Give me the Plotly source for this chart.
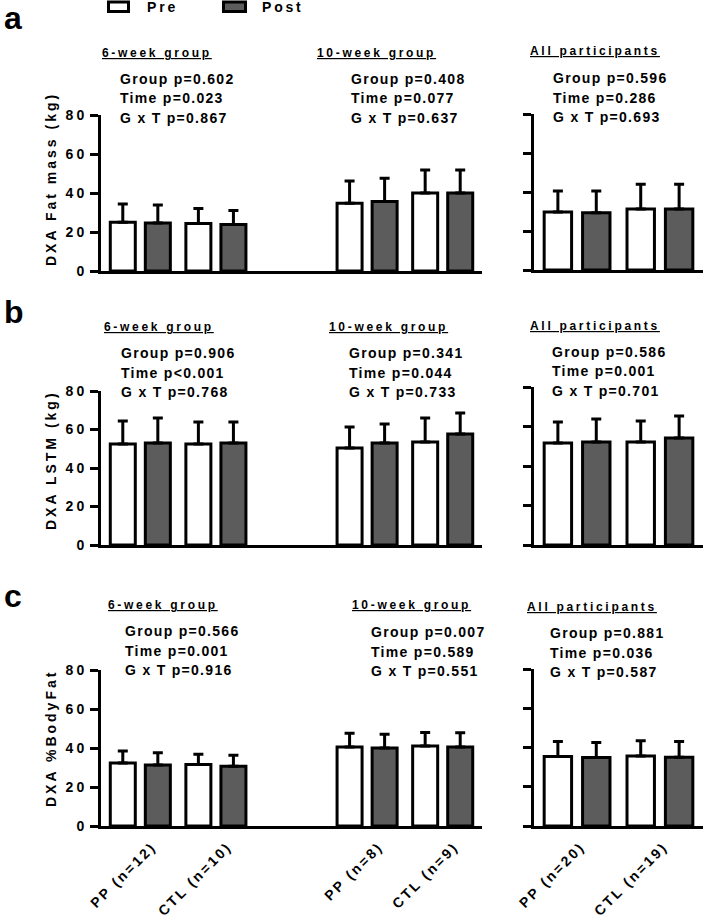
import plotly.graph_objects as go

W, H = 703, 924
FONT = "Liberation Sans, Arial, sans-serif"
GREY = "#5c5c5c"

cats_6wk = ["PP (n=12)", "CTL (n=10)"]
cats_10wk = ["PP (n=8)", "CTL (n=9)"]
cats_all = ["PP (n=20)", "CTL (n=19)"]
cohort_titles = ["6-week group", "10-week group", "All participants"]
series_names = ["Pre", "Post"]
series_colors = ["white", GREY]

# order in every list: 6wk PP, 6wk CTL, 10wk PP, 10wk CTL, all PP, all CTL
fat_pre = [25.0, 24.3, 34.8, 40.0, 29.7, 31.3]
fat_pre_sd = [9.4, 7.7, 11.3, 11.8, 10.8, 12.7]
fat_post = [24.6, 23.8, 35.7, 40.0, 29.3, 31.3]
fat_post_sd = [9.2, 7.2, 11.8, 11.8, 11.2, 12.7]

lstm_pre = [52.5, 52.5, 50.4, 53.5, 51.6, 52.2]
lstm_pre_sd = [11.9, 11.4, 10.9, 12.5, 10.7, 10.6]
lstm_post = [53.0, 53.0, 53.0, 57.7, 52.2, 54.2]
lstm_post_sd = [13.0, 10.9, 9.9, 10.9, 11.6, 11.1]

bf_pre = [32.3, 31.5, 40.5, 41.0, 35.4, 35.7]
bf_pre_sd = [6.2, 5.3, 7.0, 7.0, 7.6, 7.8]
bf_post = [31.3, 30.7, 40.0, 40.5, 34.9, 35.0]
bf_post_sd = [6.2, 5.6, 7.0, 7.3, 7.6, 8.0]

fat_stats = [["Group p=0.602", "Time p=0.023", "G x T p=0.867"],
             ["Group p=0.408", "Time p=0.077", "G x T p=0.637"],
             ["Group p=0.596", "Time p=0.286", "G x T p=0.693"]]
lstm_stats = [["Group p=0.906", "Time p<0.001", "G x T p=0.768"],
              ["Group p=0.341", "Time p=0.044", "G x T p=0.733"],
              ["Group p=0.586", "Time p=0.001", "G x T p=0.701"]]
bf_stats = [["Group p=0.566", "Time p=0.001", "G x T p=0.916"],
            ["Group p=0.007", "Time p=0.589", "G x T p=0.551"],
            ["Group p=0.881", "Time p=0.036", "G x T p=0.587"]]

y_ticks = [0, 20, 40, 60, 80]


def spaced(text, px):
    return f'<span style="letter-spacing:{px}px">{text}</span>'


def px_x(x):
    return x / W


def px_y(y):
    return 1 - y / H


# layout positions (pixels) for each row
rows = [
    dict(letter="a", ytitle="DXA Fat mass (kg)", pre=fat_pre, pre_sd=fat_pre_sd,
         post=fat_post, post_sd=fat_post_sd, stats=fat_stats,
         left=(115, 271), right=(114, 270), ytitle_y=179, letter_y=18,
         title_pos=[(157, 53), (376, 53), (595, 51)],
         stat_pos=[(118, 79), (349, 79), (551, 78)]),
    dict(letter="b", ytitle="DXA LSTM (kg)", pre=lstm_pre, pre_sd=lstm_pre_sd,
         post=lstm_post, post_sd=lstm_post_sd, stats=lstm_stats,
         left=(391, 545), right=(387, 545), ytitle_y=460, letter_y=312,
         title_pos=[(159, 327), (388, 327), (595, 326)],
         stat_pos=[(119, 353), (347, 353), (550, 352)]),
    dict(letter="c", ytitle="DXA %BodyFat", pre=bf_pre, pre_sd=bf_pre_sd,
         post=bf_post, post_sd=bf_post_sd, stats=bf_stats,
         left=(670, 826), right=(669, 826), ytitle_y=739, letter_y=596,
         title_pos=[(163, 605), (411, 605), (592, 607)],
         stat_pos=[(123, 631), (369, 632), (548, 633)]),
]

fig = go.Figure()
annotations = []
shapes = []
layout_axes = {}

left_cats = cats_6wk + [" "] + cats_10wk

for i, row in enumerate(rows):
    li, ri = 2 * i + 1, 2 * i + 2
    for ax_i, cats, sl in [(li, cats_6wk + cats_10wk, slice(0, 4)),
                           (ri, cats_all, slice(4, 6))]:
        xref = "x" if ax_i == 1 else f"x{ax_i}"
        yref = "y" if ax_i == 1 else f"y{ax_i}"
        for name, vals, sds, color in [(series_names[0], row["pre"], row["pre_sd"], series_colors[0]),
                                       (series_names[1], row["post"], row["post_sd"], series_colors[1])]:
            v = vals[sl]
            fig.add_trace(go.Bar(
                x=cats, y=v, name=name, showlegend=False,
                marker=dict(color=color, line=dict(color="black", width=3)),
                error_y=dict(type="data", symmetric=False, array=sds[sl],
                             arrayminus=[0] * len(v), color="black",
                             thickness=3, width=5),
                xaxis=xref, yaxis=yref,
            ))

    for ax_i, dom_x, (top, bot), cats, rng, labels, shift in [
        (li, [px_x(101), px_x(482)], row["left"], left_cats, [-0.52, 4.52], True, 12),
        (ri, [px_x(534), 1.0], row["right"], cats_all, [-0.52, 1.52], False, 4),
    ]:
        suffix = "" if ax_i == 1 else str(ax_i)
        layout_axes[f"xaxis{suffix}"] = dict(
            domain=dom_x, anchor=f"y{suffix}", type="category",
            categoryorder="array", categoryarray=cats, range=rng,
            showline=True, linewidth=3, linecolor="black", ticks="",
            showgrid=False, zeroline=False, automargin=False,
            showticklabels=(i == 2), tickangle=-45,
            ticklabelshift=shift, ticklabelstandoff=4,
            tickvals=cats, ticktext=[spaced(c, 2.5) for c in cats],
            tickfont=dict(family=FONT, size=14, color="black", weight="bold"),
        )
        layout_axes[f"yaxis{suffix}"] = dict(
            domain=[px_y(bot), px_y(top)], anchor=f"x{suffix}", range=[0, 80],
            showline=True, linewidth=3, linecolor="black",
            ticks="outside", ticklen=8, tickwidth=3, tickcolor="black",
            tickvals=y_ticks, ticktext=[spaced(t, 3) for t in y_ticks],
            showticklabels=labels, showgrid=False, zeroline=False,
            automargin=False, ticklabelstandoff=0,
            tickfont=dict(family=FONT, size=14, color="black", weight="bold"),
        )

    annotations.append(dict(
        x=px_x(2), y=px_y(row["letter_y"]), xref="paper", yref="paper",
        text=f"<b>{row['letter']}</b>", showarrow=False, xanchor="left",
        yanchor="middle", font=dict(family=FONT, size=32, color="black")))
    annotations.append(dict(
        x=px_x(51), y=px_y(row["ytitle_y"]), xref="paper", yref="paper",
        text=f"<b>{spaced(row['ytitle'], 3)}</b>", textangle=-90,
        showarrow=False, xanchor="center", yanchor="middle",
        font=dict(family=FONT, size=14, color="black")))
    for k in range(3):
        tx, ty = row["title_pos"][k]
        annotations.append(dict(
            x=px_x(tx), y=px_y(ty), xref="paper", yref="paper",
            text=f"<u><b>{spaced(cohort_titles[k], 2.7)}</b></u>",
            showarrow=False, xanchor="center", yanchor="middle",
            font=dict(family=FONT, size=12, color="black")))
        sx, sy = row["stat_pos"][k]
        for j, line in enumerate(row["stats"][k]):
            annotations.append(dict(
                x=px_x(sx), y=px_y(sy + 19.5 * j), xref="paper", yref="paper",
                text=f"<b>{spaced(line, 1.3)}</b>", showarrow=False,
                xanchor="left", yanchor="middle", align="left",
                font=dict(family=FONT, size=14, color="black")))

# legend drawn as boxes + labels at the top
legend_items = [(108.5, 128.5, 145), (223.5, 245.5, 260)]
for (x0, x1, tx), name, color in zip(legend_items, series_names, series_colors):
    shapes.append(dict(type="rect", xref="paper", yref="paper",
                       x0=px_x(x0), x1=px_x(x1), y0=px_y(11.5), y1=px_y(2),
                       fillcolor=color, line=dict(color="black", width=3)))
    annotations.append(dict(
        x=px_x(tx), y=px_y(7), xref="paper", yref="paper",
        text=f"<b>{spaced(name, 2.8)}</b>", showarrow=False,
        xanchor="left", yanchor="middle", align="left",
        font=dict(family=FONT, size=14, color="black")))

fig.update_layout(
    width=W, height=H,
    margin=dict(l=0, r=0, t=0, b=0),
    paper_bgcolor="white", plot_bgcolor="white",
    barmode="group", bargap=0.073, bargroupgap=0.286,
    font=dict(family=FONT, size=14, color="black"),
    showlegend=False,
    annotations=annotations,
    shapes=shapes,
    **layout_axes,
)

fig.write_html("out.html", config={"displayModeBar": False},
               post_script="document.body.style.margin='0';")
